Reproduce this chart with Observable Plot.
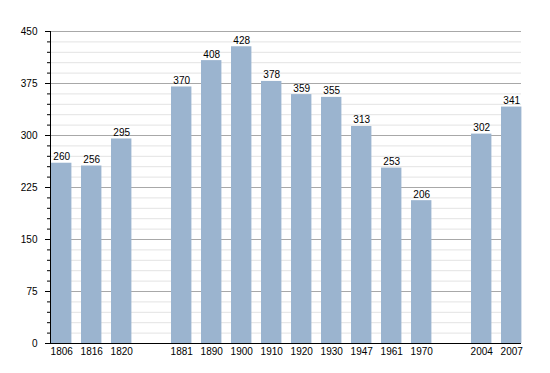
<!DOCTYPE html>
<html>
<head>
<meta charset="utf-8">
<script src="https://cdn.jsdelivr.net/npm/d3@7"></script>
<script src="https://cdn.jsdelivr.net/npm/@observablehq/plot@0.6"></script>
<style>
  html, body { margin: 0; padding: 0; background: #fff; }
  svg { display: block; }
</style>
</head>
<body>
<div id="chart"></div>
<script>
const slots = ["1806", "1816", "1820", "gap1", "1881", "1890", "1900", "1910", "1920", "1930", "1947", "1961", "1970", "gap2", "2004", "2007"];
const years = ["1806", "1816", "1820", "1881", "1890", "1900", "1910", "1920", "1930", "1947", "1961", "1970", "2004", "2007"];
const population = [260, 256, 295, 370, 408, 428, 378, 359, 355, 313, 253, 206, 302, 341];
const majorTicks = [0, 75, 150, 225, 300, 375, 450];
const minorTicks = d3.range(0, 451, 15).filter(v => v % 75 !== 0);

const data = years.map((y, i) => ({year: y, value: population[i]}));
const font = "'Liberation Sans', Arial, sans-serif";

const chart = Plot.plot({
  width: 550,
  height: 373,
  marginLeft: 50,
  marginRight: 29,
  marginTop: 31,
  marginBottom: 30,
  style: {fontFamily: font, fontSize: "10px", color: "#000", background: "#fff"},
  x: {domain: slots, padding: 0.32, range: [41.4, 531], round: false, label: null},
  y: {domain: [0, 450], label: null},
  marks: [
    Plot.ruleY(minorTicks, {stroke: "#e3e3e3", strokeWidth: 1}),
    Plot.ruleY(majorTicks, {stroke: "#a8a8a8", strokeWidth: 1}),
    Plot.barY(data, {x: "year", y: "value", fill: "#9bb4cf"}),
    Plot.text(data, {x: "year", y: "value", text: d => String(d.value), lineAnchor: "bottom", dy: -3, fill: "#000", fontSize: 10}),
    Plot.axisY({ticks: minorTicks, tickSize: 3, tickFormat: () => "", stroke: "#000"}),
    Plot.axisY({ticks: majorTicks, tickSize: 5, tickPadding: 8, stroke: "#000", fill: "#000", fontSize: 10}),
    Plot.axisX({ticks: years, tickSize: 0, tickPadding: 4, fill: "#000", fontSize: 10}),
    Plot.ruleY([0], {stroke: "#000", strokeWidth: 1}),
    Plot.frame({anchor: "left", stroke: "#000"})
  ]
});
document.getElementById("chart").appendChild(chart);
</script>
</body>
</html>
